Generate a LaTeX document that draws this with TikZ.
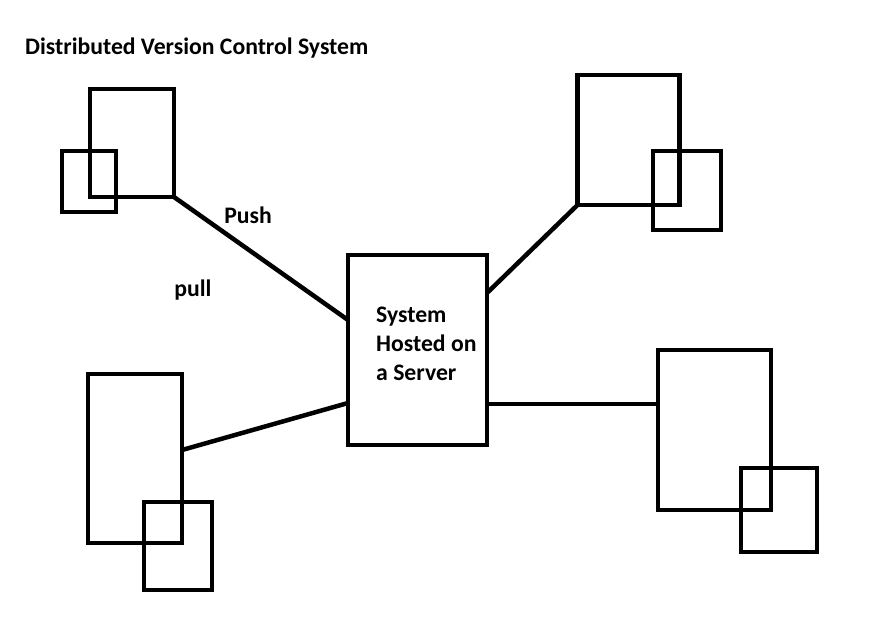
\documentclass[tikz,border=0pt]{standalone}
\usepackage{fontspec}
\setmainfont{Carlito}
\begin{document}
\begin{tikzpicture}[x=1pt,y=-1pt,
  box/.style={draw=black,line width=4.5pt,rectangle,inner sep=0pt,outer sep=0pt},
  link/.style={draw=black,line width=4.5pt},
  lbl/.style={font=\bfseries\fontsize{23.7}{29}\selectfont,inner sep=0pt}]
\useasboundingbox (0,0) rectangle (875,616);
% title
\node[lbl,anchor=west] (title) at (25,48) {Distributed Version Control System};
% server
\node[box,minimum width=139pt,minimum height=190pt] (server) at (417.5,350) {};
\node[lbl,anchor=west,align=left] (stext) at (376,344) {System\\Hosted on\\a Server};
% top-left
\node[box,minimum width=84pt,minimum height=108pt] (tlbig) at (132,143) {};
\node[box,minimum width=54pt,minimum height=61pt] (tlsmall) at (89,181.5) {};
% top-right
\node[box,minimum width=102pt,minimum height=130pt] (trbig) at (628.5,140) {};
\node[box,minimum width=68pt,minimum height=79pt] (trsmall) at (687,190.5) {};
% bottom-left
\node[box,minimum width=94pt,minimum height=169pt] (blbig) at (135,458.5) {};
\node[box,minimum width=68pt,minimum height=88pt] (blsmall) at (178,546) {};
% bottom-right
\node[box,minimum width=113pt,minimum height=160pt] (brbig) at (714.5,430) {};
\node[box,minimum width=76pt,minimum height=84pt] (brsmall) at (779,510) {};
% connectors
\draw[link] (tlbig.south east) -- ([yshift=30pt]server.west);
\draw[link] (trbig.south west) -- ([yshift=57pt]server.east);
\draw[link] ([yshift=8.5pt]blbig.east) -- ([yshift=-53pt]server.west);
\draw[link] ([yshift=-54pt]server.east) -- ([yshift=26pt]brbig.west);
% labels
\node[lbl] (push) at (248,215) {Push};
\node[lbl] (pull) at (193,290) {pull};
\end{tikzpicture}
\end{document}
